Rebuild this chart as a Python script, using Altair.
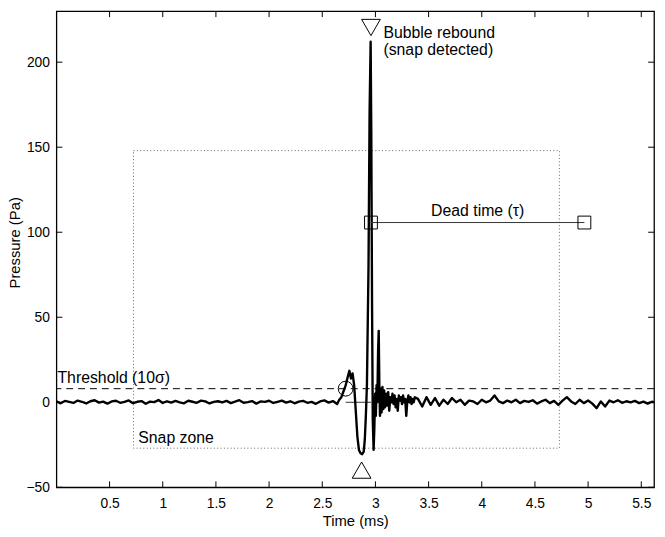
import altair as alt
import pandas as pd

# ---------------- data ----------------
# baseline before the event, sampled every 0.04 ms from 0 ms
pre_step = 0.04
pre_p = [0.5, -0.6, 0.8, 0.2, -0.4, 1.0, 0.3, -0.7, 0.6, 1.2, -0.2, 0.4, -0.8, 0.5,
         0.9, -0.3, 0.2, 1.1, -0.5, 0.3, 0.7, -0.9, 0.4, 0.1, 1.3, -0.4, 0.6, -0.2,
         0.8, 0.0, -0.6, 0.9, 0.3, -0.3, 1.0, 0.5, -0.7, 0.2, 0.6, -0.1, 0.8, -0.5,
         0.4, 1.2, -0.3, 0.1, 0.7, -0.8, 0.5, 0.2, 0.9, -0.4, 0.3, 1.0, -0.2, 0.6,
         -0.6, 0.4, 0.8, -0.3, 0.2, -0.9, 0.5, 1.1, -0.2, 0.7]

# the snap event
ev_t = [2.64, 2.66, 2.68, 2.70, 2.72, 2.74, 2.755, 2.77, 2.785, 2.80, 2.815, 2.83,
        2.845, 2.86, 2.875, 2.89, 2.90, 2.91, 2.92, 2.935, 2.945, 2.955, 2.961,
        2.968, 2.975, 2.983, 2.99, 2.997, 3.004, 3.011, 3.018, 3.025, 3.031, 3.037,
        3.043, 3.05, 3.058, 3.066, 3.074, 3.082, 3.09, 3.10, 3.11, 3.12, 3.13, 3.14,
        3.15, 3.16, 3.17, 3.18, 3.19, 3.20, 3.21, 3.22, 3.23, 3.24, 3.25, 3.26,
        3.27, 3.28, 3.29, 3.30, 3.31, 3.32, 3.33, 3.34, 3.35, 3.36, 3.37]
ev_p = [-1.0, 1.5, 3.0, 6.5, 10.0, 15.0, 18.5, 14.0, 17.0, 10.0, -5.0, -20.0,
        -28.0, -30.0, -30.5, -29.0, -22.0, -8.0, 10.0, 80.0, 170.0, 212.0, 160.0,
        60.0, -10.0, -28.0, -15.0, 5.0, -8.0, 10.0, 0.0, 30.0, 42.0, 10.0,
        -8.0, 8.0, -6.0, 9.0, -4.0, 7.0, -3.0, 5.0, -2.0, 6.0, -5.0, 3.0,
        0.0, 5.0, -1.0, 4.0, -3.0, 2.0, -5.0, 4.0, 1.0, 3.0, -1.0, 4.0,
        0.0, 2.0, -8.0, 1.0, 4.0, 0.0, 3.0, -1.0, 2.0, 0.0, 3.0]

# tail after the event, sampled every 0.04 ms from 3.40 ms
post_start = 3.40
post_step = 0.04
post_p = [2.0, -2.5, 3.0, -1.5, 2.5, -2.0, 1.5, -1.0, 2.5, 0.0, 1.5, -1.5, 1.0, 0.5,
          -1.0, 1.5, 0.0, 1.0, 4.0, 0.5, -0.5, 1.0, 0.0, 1.5, -0.5, 0.8, 0.2, 1.2,
          -0.8, 0.5, 1.5, -0.5, 0.8, -1.5, 1.0, 3.0, 0.5, -1.0, 1.5, -0.5, 1.0,
          -0.8, -3.5, 0.5, -2.5, 1.0, 0.0, 1.2, -0.3, 0.6, 0.0, 0.8, -0.5, 0.4,
          -0.8, 0.3, -0.2]

threshold = 8.0
snap_x = [0.725, 4.73]
snap_y = [-27.0, 148.0]
cross_t, cross_p = 2.72, 8.0
dead_t = [2.958, 4.965]
dead_p = 105.7
rebound_t, rebound_p = 2.958, 220.4
trough_t, trough_p = 2.87, -39.9

x_ticks = [0.5, 1, 1.5, 2, 2.5, 3, 3.5, 4, 4.5, 5, 5.5]
y_ticks = [-50, 0, 50, 100, 150, 200]
x_domain = [0, 5.62]
y_domain = [-50, 230]

W, H = 605, 482
FONT = "Liberation Sans"
FS_LABEL = 14
FS_TITLE = 15
FS_TEXT = 16

# ---------------- build ----------------
t_all = [round(i * pre_step, 4) for i in range(len(pre_p))] + ev_t + \
        [round(post_start + i * post_step, 4) for i in range(len(post_p))]
p_all = pre_p + ev_p + post_p
sig = pd.DataFrame({"t": t_all, "p": p_all})

xs = alt.Scale(domain=x_domain, nice=False, zero=False)
ys = alt.Scale(domain=y_domain, nice=False, zero=False)

AX_COMMON = dict(format=".6~g", ticks=False, tickSize=0, domain=False, grid=False,
                 labelFont=FONT, titleFont=FONT, labelFontSize=FS_LABEL,
                 titleFontSize=FS_TITLE, labelColor="black", titleColor="black",
                 titleFontWeight="normal")

X = lambda f: alt.X(f, type="quantitative", scale=xs, title="Time (ms)",
                    axis=alt.Axis(values=x_ticks, labelPadding=9, titlePadding=4, **AX_COMMON))
Y = lambda f: alt.Y(f, type="quantitative", scale=ys, title="Pressure (Pa)",
                    axis=alt.Axis(values=y_ticks, labelPadding=7, titleX=-37, titleY=234,
                                  titleBaseline="alphabetic", **AX_COMMON))

snap_df = pd.DataFrame({"x": [snap_x[0]], "x2": [snap_x[1]], "y": [snap_y[0]], "y2": [snap_y[1]]})
snap = alt.Chart(snap_df).mark_rect(fill=None, filled=False, stroke="#666666",
                                    strokeWidth=1, strokeDash=[1, 2.4]).encode(
    x=X("x"), x2="x2", y=Y("y"), y2="y2")

thr = alt.Chart(pd.DataFrame({"y": [threshold]})).mark_rule(
    color="black", strokeWidth=1, strokeDash=[7, 5]).encode(y=Y("y"))

zero_seg = alt.Chart(pd.DataFrame({"x": [cross_t], "x2": [dead_t[0]], "y": [0.0]})).mark_rule(
    color="#333333", strokeWidth=1).encode(x=X("x"), x2="x2", y=Y("y"))

line = alt.Chart(sig).mark_line(color="black", strokeWidth=2.4, clip=True,
                                strokeJoin="round").encode(x=X("t"), y=Y("p"), order="t:Q")

dead_line = alt.Chart(pd.DataFrame({"x": [dead_t[0]], "x2": [dead_t[1]], "y": [dead_p]})).mark_rule(
    color="#333333", strokeWidth=1).encode(x=X("x"), x2="x2", y=Y("y"))

squares = alt.Chart(pd.DataFrame({"x": dead_t, "y": [dead_p, dead_p]})).mark_point(
    shape="square", size=169, filled=False, color="black", strokeWidth=1, opacity=1).encode(
    x=X("x"), y=Y("y"))

circ = alt.Chart(pd.DataFrame({"x": [cross_t], "y": [cross_p]})).mark_point(
    shape="circle", size=225, filled=False, color="black", strokeWidth=1, opacity=1).encode(
    x=X("x"), y=Y("y"))

tri_down = alt.Chart(pd.DataFrame({"x": [rebound_t], "y": [rebound_p]})).mark_point(
    shape="triangle-down", size=361, filled=False, color="black", strokeWidth=1, opacity=1).encode(
    x=X("x"), y=Y("y"))

tri_up = alt.Chart(pd.DataFrame({"x": [trough_t], "y": [trough_p]})).mark_point(
    shape="triangle-up", size=361, filled=False, color="black", strokeWidth=1, opacity=1).encode(
    x=X("x"), y=Y("y"))

labels_df = pd.DataFrame({
    "x": [3.075, 0.01, 0.77],
    "y": [214.0, 11.6, -24.0],
    "txt": ["Bubble rebound", "Threshold (10σ)", "Snap zone"],
})
labels = alt.Chart(labels_df).mark_text(align="left", baseline="alphabetic", fontSize=FS_TEXT,
                                        font=FONT, color="black").encode(
    x=X("x"), y=Y("y"), text="txt:N")

labels2 = alt.Chart(pd.DataFrame({"x": [3.075], "y": [214.0], "txt": ["(snap detected)"]})).mark_text(
    align="left", baseline="alphabetic", fontSize=FS_TEXT, font=FONT, color="black", dy=17).encode(
    x=X("x"), y=Y("y"), text="txt:N")

dead_lbl = alt.Chart(pd.DataFrame({"x": [(dead_t[0] + dead_t[1]) / 2], "y": [dead_p],
                                   "txt": ["Dead time (τ)"]})).mark_text(
    align="center", baseline="alphabetic", fontSize=FS_TEXT, font=FONT, color="black", dy=-7).encode(
    x=X("x"), y=Y("y"), text="txt:N")

# inward ticks on all four sides
xt = pd.DataFrame({"v": x_ticks})
yt = pd.DataFrame({"v": y_ticks})
tick_style = dict(color="black", strokeWidth=1)
xt_bot = alt.Chart(xt).mark_rule(**tick_style).encode(x=X("v"), y=alt.value(H), y2=alt.value(H - 6))
xt_top = alt.Chart(xt).mark_rule(**tick_style).encode(x=X("v"), y=alt.value(0), y2=alt.value(6))
yt_left = alt.Chart(yt).mark_rule(**tick_style).encode(y=Y("v"), x=alt.value(0), x2=alt.value(6))
yt_right = alt.Chart(yt).mark_rule(**tick_style).encode(y=Y("v"), x=alt.value(W), x2=alt.value(W - 6))

chart = alt.layer(
    snap, thr, zero_seg, line, dead_line, squares, circ, tri_down, tri_up,
    labels, labels2, dead_lbl, xt_bot, xt_top, yt_left, yt_right
).properties(
    width=W, height=H,
    autosize=alt.AutoSizeParams(type="none"),
    padding={"left": 49, "top": 0, "right": 3, "bottom": 39},
    background="white",
).configure_view(
    stroke="black", strokeWidth=1.3
)

chart.save("out.html", embed_options={"renderer": "svg", "actions": False})
